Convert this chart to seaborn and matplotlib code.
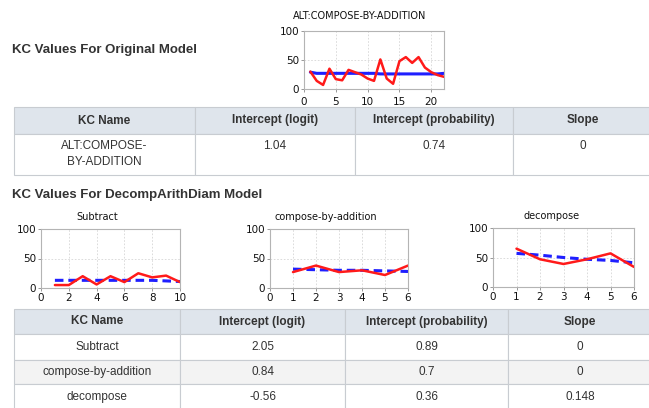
import numpy as np
import pandas as pd
import matplotlib
matplotlib.use('Agg')
import matplotlib.pyplot as plt
import seaborn as sns
from matplotlib.patches import Rectangle

sns.set_theme(style='white')
plt.rcParams['font.family'] = ['Liberation Sans', 'DejaVu Sans']

W, H = 649, 408

# learning curves (percent error per opportunity)
orig_title = 'ALT:COMPOSE-BY-ADDITION'
orig_opp = list(range(1, 23))
orig_actual = [30, 14, 7, 35, 17, 15, 33, 29, 25, 18, 14, 51, 18, 9, 48, 55, 45, 55, 37, 29, 24, 21]
orig_pred = [29, 27, 27, 27, 27, 27, 27, 27, 27, 27, 27, 26, 26, 26, 26, 26, 26, 26, 26, 26, 26, 27]

sub_opp = list(range(1, 11))
sub_actual = [5, 5, 20, 6, 20, 10, 25, 18, 21, 10]
sub_pred = [13, 13, 13, 13, 13, 13, 13, 13, 12, 11]

cba_opp = list(range(1, 7))
cba_actual = [27, 38, 27, 30, 22, 38]
cba_pred = [32, 31, 30, 30, 29, 28]

dec_opp = list(range(1, 7))
dec_actual = [65, 47, 39, 47, 57, 34]
dec_pred = [57, 54, 50, 47, 45, 41]

# tables
table_cols = ['KC Name', 'Intercept (logit)', 'Intercept (probability)', 'Slope']
orig_names = ['ALT:COMPOSE-\nBY-ADDITION']
orig_logit = ['1.04']
orig_prob = ['0.74']
orig_slope = ['0']

new_names = ['Subtract', 'compose-by-addition', 'decompose']
new_logit = ['2.05', '0.84', '-0.56']
new_prob = ['0.89', '0.7', '0.36']
new_slope = ['0', '0', '0.148']

fig = plt.figure(figsize=(W / 100, H / 100), dpi=100)
fig.patch.set_facecolor('white')


def curve(rect, opp, actual, pred, xmax, xticks, title, title_xy, dashed=True, xpad=1.5):
    l, t, r, b = rect
    ax = fig.add_axes([l / W, 1 - b / H, (r - l) / W, (b - t) / H])
    df = pd.DataFrame({'opp': opp, 'actual': actual, 'pred': pred})
    sns.lineplot(data=df, x='opp', y='pred', ax=ax, color='#1f1fff', lw=2.2,
                 linestyle=(0, (2.8, 1.6)) if dashed else '-')
    sns.lineplot(data=df, x='opp', y='actual', ax=ax, color='#ff1a1a', lw=1.8)
    ax.set(xlim=(0, xmax), ylim=(0, 100), xticks=xticks, yticks=[0, 50, 100],
           xlabel='', ylabel='')
    ax.grid(True, color='#d6d6d6', ls=(0, (2, 2)), lw=0.6)
    for s in ax.spines.values():
        s.set_color('#b4b4b4')
        s.set_linewidth(0.8)
    ax.tick_params(labelsize=7.5, length=2, width=0.6, pad=1.5, color='#888888',
                   labelcolor='#111111', bottom=True, left=True)
    ax.tick_params(axis='x', pad=xpad)
    for lab in ax.get_xticklabels() + ax.get_yticklabels():
        lab.set_family('DejaVu Sans')
    fig.text(title_xy[0] / W, 1 - title_xy[1] / H, title, ha='center', va='center',
             fontsize=7, family='DejaVu Sans', color='#111111')
    return ax


curve((304, 31, 444, 89), orig_opp, orig_actual, orig_pred, 22, [0, 5, 10, 15, 20],
      orig_title, (360, 16), dashed=False, xpad=3.5)
curve((41, 229, 180, 288), sub_opp, sub_actual, sub_pred, 10, [0, 2, 4, 6, 8, 10],
      'Subtract', (97, 217))
curve((270, 229, 408, 288), cba_opp, cba_actual, cba_pred, 6, list(range(7)),
      'compose-by-addition', (326, 217))
curve((493, 228, 634, 287), dec_opp, dec_actual, dec_pred, 6, list(range(7)),
      'decompose', (552, 216))

# overlay for headings and tables
ov = fig.add_axes([0, 0, 1, 1], zorder=5)
ov.set_xlim(0, W)
ov.set_ylim(H, 0)
ov.axis('off')
ov.patch.set_alpha(0)

ov.text(12, 50, 'KC Values For Original Model', fontsize=9.5, fontweight='bold',
        color='#333333', va='center', ha='left')
ov.text(12, 195, 'KC Values For DecompArithDiam Model', fontsize=9.5, fontweight='bold',
        color='#333333', va='center', ha='left')


def table(xs, ys, rows, fills, text_dy=None):
    border = '#c8ccd1'
    # header
    for j in range(len(xs) - 1):
        ov.add_patch(Rectangle((xs[j], ys[0]), xs[j + 1] - xs[j], ys[1] - ys[0],
                               facecolor='#dfe5ec', edgecolor=border, lw=0.8))
        ov.text((xs[j] + xs[j + 1]) / 2, (ys[0] + ys[1]) / 2, table_cols[j],
                ha='center', va='center', fontsize=8.5, fontweight='bold', color='#333333')
    for i, row in enumerate(rows):
        y0, y1 = ys[i + 1], ys[i + 2]
        for j in range(len(xs) - 1):
            ov.add_patch(Rectangle((xs[j], y0), xs[j + 1] - xs[j], y1 - y0,
                                   facecolor=fills[i], edgecolor=border, lw=0.8))
            ty = (y0 + y1) / 2 if text_dy is None else y0 + text_dy
            ov.text((xs[j] + xs[j + 1]) / 2, ty, row[j], ha='center',
                    va='center' if text_dy is None else 'top', fontsize=8.5,
                    color='#333333', linespacing=1.45)


rows1 = list(zip(orig_names, orig_logit, orig_prob, orig_slope))
table([14, 195, 355, 513, 652], [107, 134, 175], rows1, ['white'], text_dy=6)

rows2 = list(zip(new_names, new_logit, new_prob, new_slope))
table([14, 180, 345, 508, 652], [309, 334, 360, 384, 410], rows2,
      ['white', '#f3f3f3', 'white'])

fig.savefig('out.png', dpi=100, facecolor='white')
